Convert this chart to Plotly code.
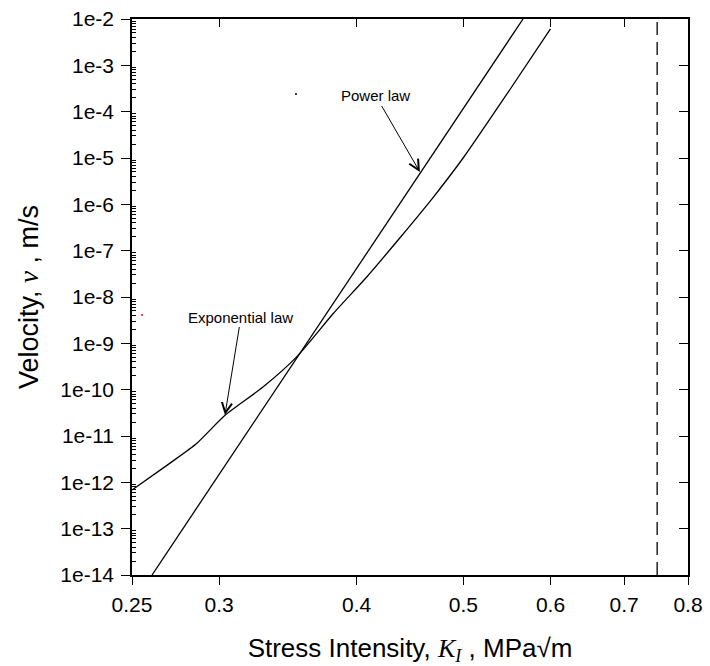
import plotly.graph_objects as go

# ---- data ----
power_K = [0.2607, 0.30, 0.35, 0.40, 0.45, 0.50, 0.5665]
power_v = [1e-14, 1.5e-12, 3.5e-10, 4.2e-8, 2.8e-6, 1.2e-4, 1e-2]

exp_K = [0.25, 0.2707, 0.2862, 0.3037, 0.329, 0.3528, 0.3809, 0.4085,
         0.4387, 0.4687, 0.4998, 0.552, 0.60]
exp_v = [6.8e-13, 2.6e-12, 6.9e-12, 2.8e-11, 1.15e-10, 5.1e-10, 4.4e-9, 2.7e-8,
         2.0e-7, 1.35e-6, 1.0e-5, 3.16e-4, 6.1e-3]

KIc_K = [0.75, 0.75]
KIc_v = [1e-14, 1e-2]

stray_black = ([0.3523], [2.4e-4])
stray_red = ([0.2553], [4.1e-9])

x_tickvals = [0.25, 0.3, 0.4, 0.5, 0.6, 0.7, 0.8]
x_ticktext = ["0.25", "0.3", "0.4", "0.5", "0.6", "0.7", "0.8"]
y_exps = list(range(-2, -15, -1))
y_tickvals = [10.0 ** e for e in y_exps]
y_ticktext = ["1e%d" % e for e in y_exps]
y_minor = [m * 10.0 ** e for e in range(-14, -2) for m in range(2, 10)]

x_range = [-0.60206, -0.09691]  # log10(0.25), log10(0.8)
y_range = [-14, -2]

FONT = "Liberation Sans, Arial, sans-serif"
LINE = dict(color="black", width=1.3)

fig = go.Figure()
fig.add_trace(go.Scatter(x=power_K, y=power_v, mode="lines", line=LINE,
                         showlegend=False, hoverinfo="skip"))
fig.add_trace(go.Scatter(x=exp_K, y=exp_v, mode="lines",
                         line=dict(color="black", width=1.3, shape="spline", smoothing=0.6),
                         showlegend=False, hoverinfo="skip"))
fig.add_trace(go.Scatter(x=KIc_K, y=KIc_v, mode="lines",
                         line=dict(color="black", width=1.3, dash="13px,7px"),
                         showlegend=False, hoverinfo="skip"))
fig.add_trace(go.Scatter(x=stray_black[0], y=stray_black[1], mode="markers",
                         marker=dict(color="black", size=2), showlegend=False))
fig.add_trace(go.Scatter(x=stray_red[0], y=stray_red[1], mode="markers",
                         marker=dict(color="red", size=2), showlegend=False))
# carrier traces for the extra tick axes
fig.add_trace(go.Scatter(x=[None], y=[None], xaxis="x2", yaxis="y2",
                         showlegend=False, hoverinfo="skip"))
fig.add_trace(go.Scatter(x=[None], y=[None], xaxis="x", yaxis="y3",
                         showlegend=False, hoverinfo="skip"))

axis_common = dict(showgrid=False, zeroline=False, showline=True,
                   linecolor="black", linewidth=1.5, tickcolor="black",
                   tickwidth=1.3, automargin=False)

fig.update_layout(
    width=710, height=666,
    margin=dict(l=132, r=22, t=19, b=91),
    paper_bgcolor="white", plot_bgcolor="white",
    font=dict(family=FONT, color="black"),
    xaxis=dict(type="log", range=x_range, tickmode="array",
               tickvals=x_tickvals, ticktext=x_ticktext,
               ticks="outside", ticklen=8, ticklabelstandoff=2,
               tickfont=dict(size=21, family=FONT),
               title=dict(text="Stress Intensity, <span style=\"font-family:Liberation Serif\"><i>K<sub>I</sub></i></span> , MPa√m",
                          font=dict(size=26, family=FONT), standoff=25),
               **axis_common),
    xaxis2=dict(type="log", range=x_range, overlaying="x", side="top",
                anchor="y", tickmode="array", tickvals=x_tickvals,
                showticklabels=False, ticks="inside", ticklen=8,
                **axis_common),
    yaxis=dict(type="log", range=y_range, tickmode="array",
               tickvals=y_tickvals, ticktext=y_ticktext,
               ticks="outside", ticklen=9, ticklabelstandoff=3,
               tickfont=dict(size=21, family=FONT),
               title=dict(text="Velocity, <span style=\"font-family:Liberation Serif\"><i>ν</i></span> , m/s",
                          font=dict(size=27, family=FONT), standoff=14),
               **axis_common),
    yaxis2=dict(type="log", range=y_range, overlaying="y", side="right",
                anchor="x", tickmode="array", tickvals=y_tickvals,
                showticklabels=False, ticks="inside", ticklen=9,
                **axis_common),
    yaxis3=dict(type="log", range=y_range, overlaying="y", side="left",
                anchor="x", tickmode="array", tickvals=y_minor,
                showticklabels=False, ticks="inside", ticklen=4,
                showgrid=False, zeroline=False, showline=False,
                tickcolor="black", tickwidth=1, automargin=False),
)

fig.add_annotation(x=-0.3405, y=-5.302, xref="x", yref="y",
                   text="Power law", showarrow=True, ax=-44, ay=-76,
                   arrowhead=5, arrowsize=2, arrowwidth=1, arrowcolor="black",
                   font=dict(size=15, family=FONT, color="black"))
fig.add_annotation(x=-0.5176, y=-10.547, xref="x", yref="y",
                   text="Exponential law", showarrow=True, ax=16, ay=-98,
                   arrowhead=5, arrowsize=2, arrowwidth=1, arrowcolor="black",
                   font=dict(size=15, family=FONT, color="black"))

fig.write_html("out.html")
